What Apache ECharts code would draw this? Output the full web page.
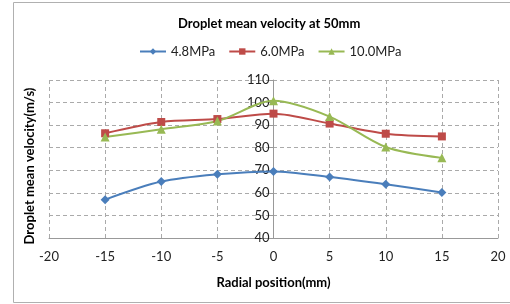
<!DOCTYPE html>
<html>
<head>
<meta charset="utf-8">
<script src="https://cdn.jsdelivr.net/npm/echarts@6/dist/echarts.min.js"></script>
<style>
  html, body { margin: 0; padding: 0; background: #fff; }
  #chart { width: 510px; height: 304px; }
</style>
</head>
<body>
<div id="chart"></div>
<script>
const positions = [-15, -10, -5, 0, 5, 10, 15];
const v48 = [57, 65, 68.2, 69.5, 67, 63.8, 60.2];
const v60 = [86.4, 91.4, 92.7, 95.1, 90.7, 86.2, 85];
const v100 = [84.7, 88.2, 91.8, 100.8, 93.8, 80.3, 75.5];
const seriesNames = ['4.8MPa', '6.0MPa', '10.0MPa'];
const font = 'Lato, "Open Sans", sans-serif';
const gridLeft = 49;

const pairs = vals => positions.map((x, i) => [x, vals[i]]);

let chart = echarts.init(document.getElementById('chart'));
chart.setOption({
    animation: false,
    color: ['#4A7EBB', '#BE4B48', '#98B954'],
    textStyle: { fontFamily: font },
    title: {
        text: 'Droplet mean velocity at 50mm',
        left: 173,
        top: 12,
        textStyle: { fontSize: 13, fontWeight: 'bold', color: '#000', fontFamily: font }
    },
    legend: {
        top: 40,
        left: 134,
        itemWidth: 26,
        itemHeight: 8,
        itemGap: 13,
        textStyle: { fontSize: 13, color: '#222', fontFamily: font },
        data: seriesNames
    },
    graphic: [{
        type: 'rect',
        shape: { x: 13.5, y: 2.5, width: 520, height: 300 },
        style: { fill: 'none', stroke: '#b0b0b0', lineWidth: 1 },
        silent: true
    }, {
        type: 'text',
        x: 30,
        y: 166,
        rotation: Math.PI / 2,
        style: {
            text: 'Droplet mean velocity(m/s)',
            font: 'bold 13px ' + font,
            fill: '#000',
            align: 'center',
            verticalAlign: 'middle'
        },
        silent: true
    }],
    grid: { left: gridLeft, right: 12, top: 80, bottom: 66, outerBoundsMode: 'none' },
    xAxis: {
        type: 'value',
        min: -20,
        max: 20,
        interval: 5,
        name: 'Radial position(mm)',
        nameLocation: 'middle',
        nameGap: 38,
        nameTextStyle: { fontSize: 13, fontWeight: 'bold', color: '#000' },
        axisLine: { onZero: false, lineStyle: { color: '#999' } },
        axisTick: { show: false },
        axisLabel: { fontSize: 13, color: '#222', margin: 12 },
        splitLine: { show: true, lineStyle: { type: [4, 3], color: '#aaa' } }
    },
    yAxis: {
        type: 'value',
        min: 40,
        max: 110,
        interval: 10,
        position: 'left',
        axisLine: { show: true, onZero: false, lineStyle: { color: '#999' } },
        axisTick: { show: true, length: 4, lineStyle: { color: '#999' } },
        axisLabel: { fontSize: 13, color: '#222', margin: 4 },
        splitLine: { show: true, lineStyle: { type: [4, 3], color: '#aaa' } }
    },
    series: [
        { name: seriesNames[0], type: 'line', smooth: 0.3, data: pairs(v48), symbol: 'diamond', symbolSize: 9, lineStyle: { width: 2 } },
        { name: seriesNames[1], type: 'line', smooth: 0.3, data: pairs(v60), symbol: 'rect', symbolSize: 8, lineStyle: { width: 2 } },
        { name: seriesNames[2], type: 'line', smooth: 0.3, data: pairs(v100), symbol: 'triangle', symbolSize: 9, lineStyle: { width: 2 } }
    ]
});

// put the y axis on x = 0
const zeroX = chart.convertToPixel({ xAxisIndex: 0 }, 0);
chart.setOption({ yAxis: { offset: gridLeft - zeroX } });
</script>
</body>
</html>
